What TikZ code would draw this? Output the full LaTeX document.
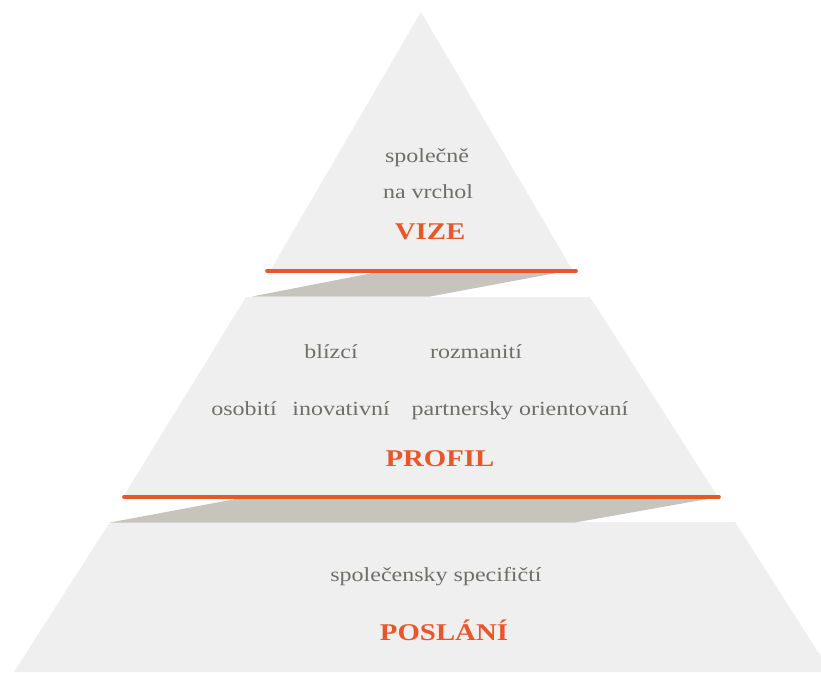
\documentclass[tikz,border=0pt]{standalone}
\usepackage{fontspec}
\setmainfont{Liberation Serif}
\newfontfamily\tierfont[FakeStretch=1.2]{Liberation Serif}
\definecolor{tierfill}{HTML}{EFEFEF}
\definecolor{shadefill}{HTML}{C7C3BD}
\definecolor{accent}{HTML}{E8572A}
\definecolor{wordgray}{HTML}{6E6E6A}
\tikzset{
  tier/.style={fill=tierfill, draw=none},
  shade/.style={fill=shadefill, draw=none},
  rule/.style={draw=accent, line width=3.6pt, line cap=round},
  word/.style={anchor=base, inner sep=0pt, text=wordgray, font=\tierfont\fontsize{20}{22}\selectfont},
  title/.style={anchor=base, inner sep=0pt, text=accent, font=\tierfont\bfseries\fontsize{24}{26}\selectfont}
}
\begin{document}
\begin{tikzpicture}[x=1pt,y=-1pt]
\useasboundingbox (0,0) rectangle (821,672);
\begin{scope}
\clip (0,0) rectangle (821,672);
% tiers
\fill[tier] (421,12) -- (573,271) -- (270,271) -- cycle;
\fill[tier] (246,297) -- (590,297) -- (718,497) -- (123,497) -- cycle;
\fill[tier] (110,522) -- (735,522) -- (831,672) -- (14,672) -- cycle;
% shading bands
\fill[shade] (383,271) -- (567,271) -- (430,296.5) -- (252,296.5) -- cycle;
\fill[shade] (241,498) -- (713,498) -- (575,522.5) -- (110,522.5) -- cycle;
\end{scope}
% orange rules
\coordinate (r1a) at (267,271);
\coordinate (r1b) at (576,271);
\coordinate (r2a) at (124,497);
\coordinate (r2b) at (719,497);
\draw[rule] (r1a) -- (r1b);
\draw[rule] (r2a) -- (r2b);
% texts
\node[word] (spolecne) at (427,162) {společně};
\node[word] (vrchol) at (428,198) {na vrchol};
\node[title] (vize) at (430,239) {VIZE};
\node[word] (blizci) at (331,358) {blízcí};
\node[word] (rozmaniti) at (476,358) {rozmanití};
\node[word] (osobiti) at (244,415) {osobití};
\node[word] (inovativni) at (341,415) {inovativní};
\node[word] (partnersky) at (520,415) {partnersky orientovaní};
\node[title] (profil) at (440,466) {PROFIL};
\node[word] (specificti) at (436,581) {společensky specifičtí};
\node[title] (poslani) at (444,640) {POSLÁNÍ};
\end{tikzpicture}
\end{document}
